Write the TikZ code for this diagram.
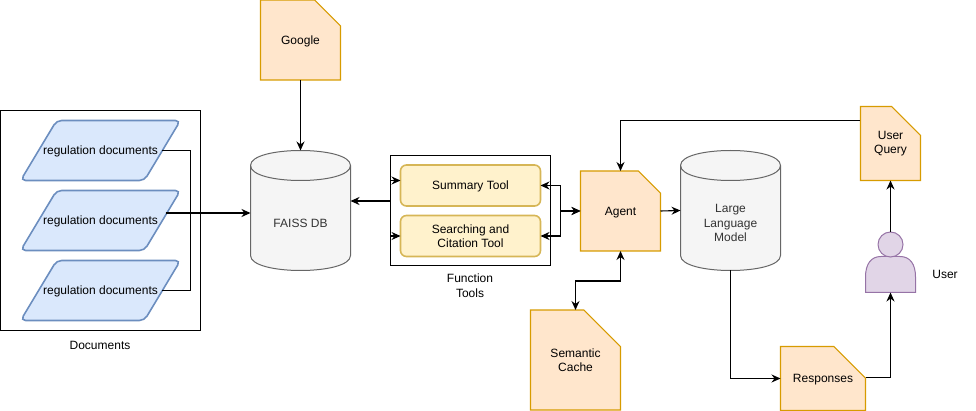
\documentclass[tikz,border=0pt]{standalone}
\usepackage{fontspec}
\setmainfont{Liberation Sans}
\usetikzlibrary{arrows.meta,shapes.geometric,shapes.misc}
\definecolor{blueFill}{HTML}{DAE8FC}
\definecolor{blueLine}{HTML}{6C8EBF}
\definecolor{grayFill}{HTML}{F5F5F5}
\definecolor{grayLine}{HTML}{666666}
\definecolor{noteFill}{HTML}{FFE6CC}
\definecolor{noteLine}{HTML}{D79B00}
\definecolor{toolFill}{HTML}{FFF2CC}
\definecolor{toolLine}{HTML}{D6B656}
\definecolor{userFill}{HTML}{E1D5E7}
\definecolor{userLine}{HTML}{9673A6}
\newcommand{\storeshape}[1]{%
\draw [draw=grayLine,fill=grayFill,line width=1pt] ([yshift=-15pt]#1.north west) .. controls +(0,-20) and +(0,-20) .. ([yshift=-15pt]#1.north east) -- ([yshift=15pt]#1.south east) .. controls +(0,20) and +(0,20) .. ([yshift=15pt]#1.south west) -- cycle;
\draw [draw=grayLine,line width=1pt] ([yshift=-15pt]#1.north west) .. controls +(0,20) and +(0,20) .. ([yshift=-15pt]#1.north east);
}
\begin{document}
\begin{tikzpicture}[x=1pt,y=-1pt,>={Stealth[length=9pt,width=8pt]}]
\tikzstyle{every node}=[font=\fontsize{12}{14.5}\selectfont,align=center,inner sep=0pt,outer sep=0pt]
\tikzstyle{oneline}=[text height=10.6pt,text depth=2.5pt]
\tikzstyle{frame}=[draw=black,line width=1.1pt]
\tikzstyle{regdoc}=[oneline,draw=blueLine,fill=blueFill,line width=1.6pt,rounded corners=5pt,trapezium,trapezium left angle=59,trapezium right angle=121,inner xsep=-13.5pt,inner ysep=23.45pt]
\tikzstyle{store}=[minimum width=100pt,minimum height=120pt]
\tikzstyle{storetext}=[text=black!80]
\tikzstyle{tool}=[draw=toolLine,fill=toolFill,line width=1.6pt,rounded corners=6pt,minimum width=140pt,minimum height=41pt]
\tikzstyle{note}=[draw=noteLine,fill=noteFill,line width=1.1pt,chamfered rectangle,chamfered rectangle corners=north east,chamfered rectangle xsep=30pt,chamfered rectangle ysep=30pt]
\tikzstyle{wire}=[draw=black,line width=1.1pt]
\tikzstyle{heavy}=[draw=black,line width=1.8pt]
%\draw [red!40](0,0) grid (976,411);
\useasboundingbox (0,0) rectangle (976,411);

\node (docbox) [frame,minimum width=200pt,minimum height=220pt] at (100.5,220.5) {};
\node (docA) [regdoc] at (100.5,150.5) {regulation documents};
\node (docB) [regdoc] at (100.5,220.5) {regulation documents};
\node (docC) [regdoc] at (100.5,290.5) {regulation documents};
\node (doclabel) at (100,345) {Documents};

\node (faiss) [store] at (300.5,210.5) {};
\storeshape{faiss}
\node (faisstext) [storetext] at (300.5,223) {FAISS DB};
\node (google) [note,oneline,minimum width=80pt,minimum height=80pt] at (300.5,40) {Google};

\node (toolbox) [frame,minimum width=160pt,minimum height=110pt] at (470.5,210.5) {};
\node (summary) [tool,oneline] at (470.5,185.5) {Summary Tool};
\node (search) [tool] at (470.5,236) {Searching and\\Citation Tool};
\node (toollabel) at (470,285.5) {Function\\Tools};

\node (agent) [note,oneline,minimum width=80pt,minimum height=80pt] at (620.5,211) {Agent};
\node (cache) [note,minimum width=90pt,minimum height=100pt] at (575.5,360) {Semantic\\Cache};
\node (llm) [store] at (730.5,210.5) {};
\storeshape{llm}
\node (llmtext) [storetext] at (730.5,223) {Large\\Language\\Model};
\node (query) [note,minimum width=60pt,minimum height=74pt] at (890.5,143.5) {User\\Query};
\node (resp) [note,oneline,inner ysep=-5pt,minimum width=85pt,minimum height=64pt] at (823,378.5) {Responses};

% the person
\node (body) [minimum width=50pt,minimum height=36pt] at (890.5,274.5) {};
\draw [draw=userLine,fill=userFill,line width=1pt] (body.south west) -- ++(0,-15.5) .. controls +(0,-13) and +(-10,0) .. ++(15.5,-20.5) -- ++(19,0) .. controls +(10,0) and +(0,-13) .. ++(15.5,20.5) -- (body.south east) -- cycle;
\node (head) [circle,draw=userLine,fill=userFill,line width=1pt,minimum size=25pt] at (890.5,244.5) {};
\node (userlabel) at (945,274.5) {User};

\coordinate (docjoin) at (190.5,213);
\coordinate (docout) at (165.5,213);
\coordinate (toolout) at (390.5,201);
\coordinate (toolinA) at (390.5,180.5);
\coordinate (toolinB) at (390.5,236);
\coordinate (agentjoin) at (560.5,211);
\coordinate (querybend) at (620.5,120.5);
\coordinate (queryout) at (860,120.5);
\coordinate (respout) at (865.5,377.5);

\draw [wire] (docA.east) -| (docjoin);
\draw [wire] (docC.east) -| (docjoin);
\draw [wire] (docout) -- (docjoin);
\draw [heavy,->] (docjoin) -- (faiss.west |- docjoin);
\draw [wire,->] (google.south) -- (faiss.north);
\draw [heavy,->] (toolout) -- (faiss.east |- toolout);
\draw [wire,->] (toolinA) -- (summary.west |- toolinA);
\draw [wire,->] (toolinB) -- (search.west |- toolinB);
\draw [wire,<->] (summary.east) -| (agentjoin) -- (agent.west);
\draw [heavy,<->] (search.east) -| (agentjoin) -- (agent.west);
\draw [wire,->] (agent.east) -- (llm.west);
\draw [wire,<->] (agent.south) -- ++(0,30) -| (cache.north);
\draw [wire,->] (queryout) -- (querybend) -- (agent.north);
\draw [wire,->] (llm.south) |- (resp.west);
\draw [wire,->] (respout) -| (body.south);
\draw [wire,->] (head.north) -- (query.south);
\end{tikzpicture}
\end{document}
